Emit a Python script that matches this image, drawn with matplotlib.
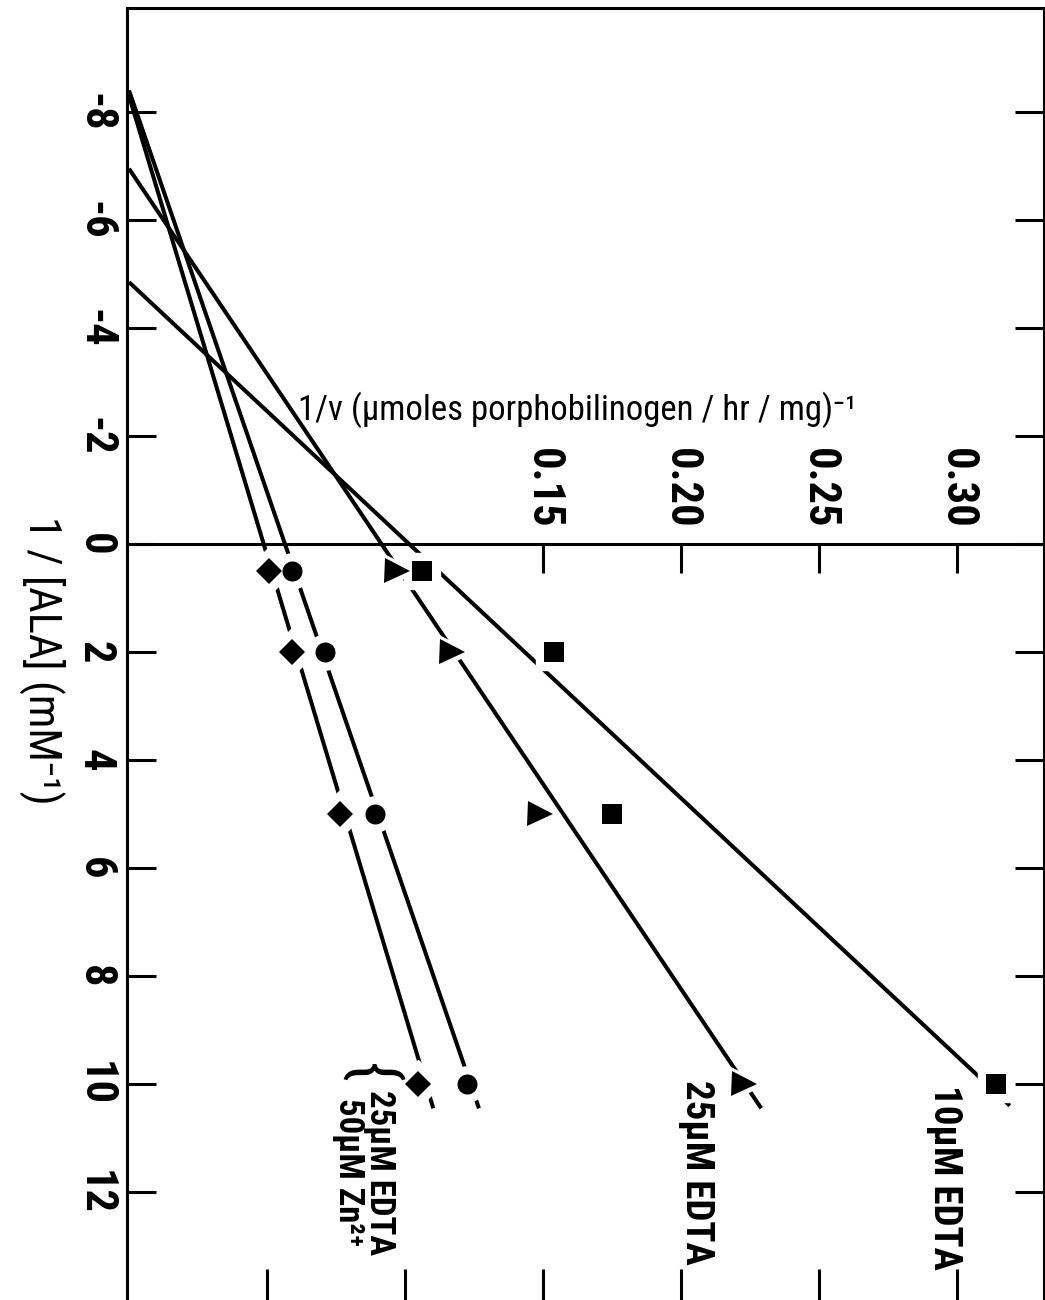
import matplotlib
matplotlib.use("Agg")
import matplotlib.pyplot as plt
import numpy as np

plt.rcParams['font.family'] = ['Roboto Condensed', 'DejaVu Sans']

# ---------------- data ----------------
inv_ala = [0.5, 2, 5, 10]                     # 1/[ALA] (mM^-1)
v_10edta = [0.106, 0.154, 0.175, 0.314]        # squares
v_25edta = [0.097, 0.117, 0.149, 0.223]        # triangles
v_25edta_b = [0.059, 0.071, 0.089, 0.1225]     # circles
v_zn = [0.0507, 0.059, 0.0764, 0.1047]         # diamonds

# fitted Lineweaver-Burk lines: 1/v intercept, 1/[ALA] intercept, end of line
line_b = [0.1015, 0.0915, 0.0565, 0.0488]
line_xint = [-4.85, -6.95, -8.4, -8.3]
line_end = [10.4, 10.45, 10.45, 10.45]

ala_ticks = [-8, -6, -4, -2, 0, 2, 4, 6, 8, 10, 12]
ala_labels = ["-8", "-6", "-4", "-2", "0", "2", "4", "6", "8", "10", "12"]
v_ticks_bottom = [0.05, 0.10, 0.15, 0.20, 0.25, 0.30]
v_ticks_mid = [0.15, 0.20, 0.25, 0.30]
v_labels_mid = ["0.15", "0.20", "0.25", "0.30"]

series_labels = ["10μM EDTA", "25μM EDTA", "25μM EDTA\n50μM Zn²⁺"]

# ---------------- figure ----------------
W, H = 1045, 1300
fig = plt.figure(figsize=(W / 100, H / 100), dpi=100)
L, R, T, B = 127, 1044, 8, 1302
ax = fig.add_axes([L / W, 1 - B / H, (R - L) / W, (B - T) / H])
xlim = (-0.000725, 0.33152)
ylim = (14.037, -9.926)
ax.set_xlim(*xlim)
ax.set_ylim(*ylim)

SPW = 2.2
for s in ax.spines.values():
    s.set_linewidth(SPW)

markers = ['s', '>', 'o', 'D']
msizes = [15, 18, 14.4, 13.7]
series = [v_10edta, v_25edta, v_25edta_b, v_zn]

for i, vals in enumerate(series):
    xs = np.array([line_xint[i], line_end[i]])
    slope = -line_b[i] / line_xint[i]
    ys = line_b[i] + slope * xs
    ax.plot(ys, xs, color='black', lw=2.9, solid_capstyle='butt', zorder=2)
    ax.plot(vals, inv_ala, linestyle='none', marker=markers[i],
            ms=msizes[i] + 11, color='white', mec='white', zorder=3)
for i, vals in enumerate(series):
    ax.plot(vals, inv_ala, linestyle='none', marker=markers[i],
            ms=msizes[i], color='black', mec='black', mew=0, zorder=4)

# left / right ticks
ax.set_yticks(ala_ticks)
ax.set_yticklabels(ala_labels, rotation=270, va='center', ha='right',
                   fontweight='bold')
ax.tick_params(axis='y', direction='in', length=21, width=SPW,
               left=True, right=True, labelleft=True, labelright=False,
               pad=8, labelsize=32)
# bottom ticks
ax.set_xticks(v_ticks_bottom)
ax.tick_params(axis='x', direction='in', length=24, width=SPW,
               bottom=True, top=False, labelbottom=False, labeltop=False)

# middle axis (1/[ALA] = 0) with 1/v labels
ax2 = ax.twiny()
ax2.set_xlim(*xlim)
for k in ['left', 'right', 'bottom']:
    ax2.spines[k].set_visible(False)
ax2.spines['top'].set_position(('data', 0))
ax2.spines['top'].set_linewidth(SPW)
ax2.xaxis.set_ticks_position('top')
ax2.set_xticks(v_ticks_mid)
ax2.set_xticklabels(v_labels_mid, rotation=270, ha='center', va='bottom',
                    fontweight='bold')
ax2.tick_params(axis='x', direction='in', length=21, width=SPW, pad=11,
                labelsize=32)

# axis titles
fig.text(42 / W, 1 - 660 / H, "1 / [ALA] (mM⁻¹)", rotation=270,
         ha='center', va='center', fontsize=32)
fig.text(298 / W, 1 - 410 / H, "1/v (μmoles porphobilinogen / hr / mg)⁻¹",
         ha='left', va='center', fontsize=25)

# series labels
fig.text(945 / W, 1 - 1085 / H, series_labels[0], rotation=270,
         ha='center', va='top', fontsize=28, fontweight='bold')
fig.text(697 / W, 1 - 1080 / H, series_labels[1], rotation=270,
         ha='center', va='top', fontsize=28, fontweight='bold')
fig.text(364 / W, 1 - 1090 / H, series_labels[2], rotation=270,
         ha='center', va='top', fontsize=25, linespacing=0.95,
         fontweight='bold')
fig.text(370 / W, 1 - 1063 / H, "{", rotation=270,
         ha='center', va='top', fontsize=46)

fig.savefig("out.png", dpi=100)
